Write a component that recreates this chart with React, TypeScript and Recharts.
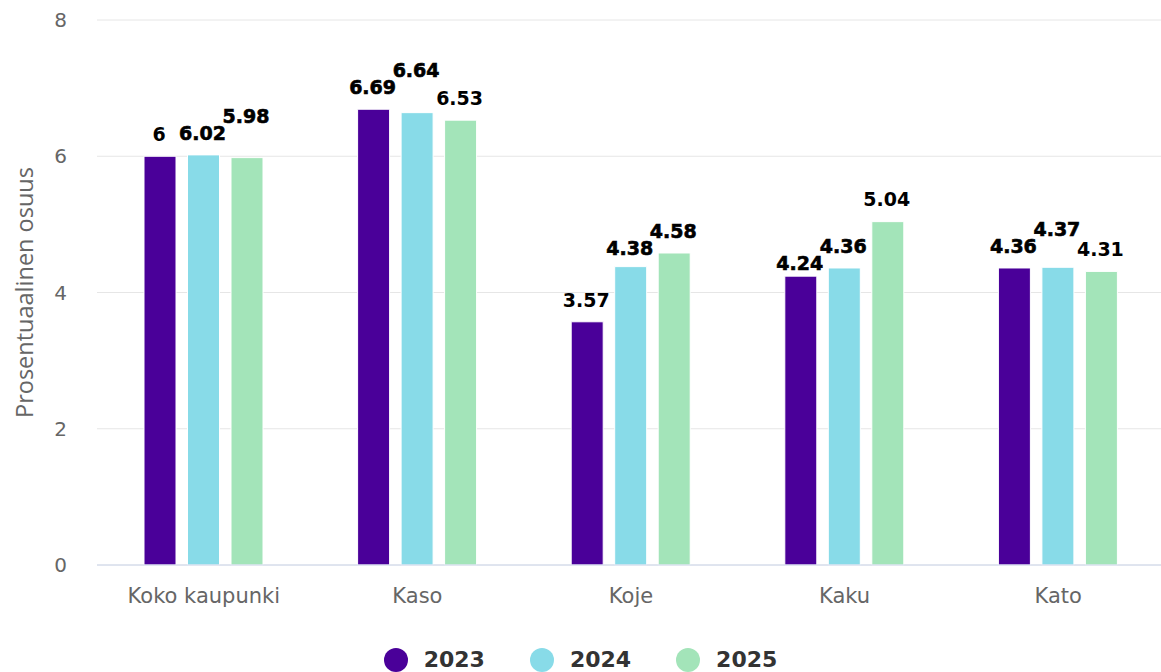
import React from 'react';
import { BarChart, Bar, XAxis, YAxis, CartesianGrid, LabelList, Legend } from 'recharts';

// ---- data ----
const categories = ['Koko kaupunki', 'Kaso', 'Koje', 'Kaku', 'Kato'];
const seriesNames = ['2023', '2024', '2025'];
const values2023 = [6, 6.69, 3.57, 4.24, 4.36];
const values2024 = [6.02, 6.64, 4.38, 4.36, 4.37];
const values2025 = [5.98, 6.53, 4.58, 5.04, 4.31];
const yTicks = [0, 2, 4, 6, 8];
const yTitle = 'Prosentuaalinen osuus';

const allSeries = [values2023, values2024, values2025];
const colors = ['#4a0099', '#88dbe8', '#a3e4b9'];

const data = categories.map((c, i) => ({
  category: c,
  s2023: values2023[i],
  s2024: values2024[i],
  s2025: values2025[i],
}));
const keys = ['s2023', 's2024', 's2025'];

// ---- style constants ----
const FONT = '"DejaVu Sans", Verdana, sans-serif';
const BAR_SIZE = 32;
const BAR_GAP = 11.5;
const LABEL_FONT = 19;
const LABEL_OFFSET = 22;
const LABEL_SEP = 17;

const fmt = (v: number) => String(v);
const estWidth = (t: string) => {
  let w = 0;
  for (const c of t) w += c === '.' ? 0.38 : 0.696;
  return w * LABEL_FONT + 4;
};

// simple collision avoidance between neighbouring labels of one category
function placeLabels(index: number, base: number, scale: number) {
  const vals = allSeries.map((s) => s[index]);
  const ys = vals.map((v) => base - v * scale - LABEL_OFFSET);
  const moved = vals.map(() => false);
  const pitch = BAR_SIZE + BAR_GAP;
  for (let s = 1; s < vals.length; s++) {
    const p = s - 1;
    const wp = estWidth(fmt(vals[p]));
    const ws = estWidth(fmt(vals[s]));
    if ((wp + ws) / 2 > pitch && Math.abs(ys[p] - ys[s]) < LABEL_SEP) {
      if (ys[p] - ys[s] > 4) ys[p] = ys[s] + LABEL_SEP;
      else ys[s] = ys[p] - LABEL_SEP;
      moved[p] = true;
      moved[s] = true;
    }
  }
  return { ys, moved };
}

const makeLabel = (seriesIdx: number) => (props: any) => {
  const vb = props.viewBox || {};
  const x = Number(props.x ?? vb.x);
  const y = Number(props.y ?? vb.y);
  const width = Number(props.width ?? vb.width);
  const height = Number(props.height ?? vb.height);
  const index = props.index;
  const value = Number(props.value);
  if (!isFinite(x) || !isFinite(y) || !value) return null;
  const base = y + height;
  const scale = height / value;
  const { ys, moved } = placeLabels(index, base, scale);
  const cy = ys[seriesIdx];
  const isMoved = moved[seriesIdx];
  return (
    <text
      x={x + width / 2 - 1}
      y={cy}
      dy="0.36em"
      textAnchor="middle"
      fontFamily={FONT}
      fontWeight="bold"
      fontSize={LABEL_FONT}
      fill="#000"
      stroke={isMoved ? '#000' : 'none'}
      strokeWidth={isMoved ? 0.6 : 0}
    >
      {fmt(value)}
    </text>
  );
};

const YTitle = (props: any) => {
  const vb = props.viewBox || {};
  const cy = (vb.y ?? 20) + (vb.height ?? 545) / 2;
  const x = (vb.x ?? 0) + 33;
  return (
    <text
      x={x}
      y={cy}
      transform={`rotate(-90 ${x} ${cy})`}
      textAnchor="middle"
      fontFamily='"Open Sans", sans-serif'
      fontSize={23.5}
      fill="#666666"
    >
      {yTitle}
    </text>
  );
};

const LegendContent = () => (
  <div
    style={{
      display: 'flex',
      justifyContent: 'center',
      alignItems: 'center',
      gap: 45,
      fontFamily: FONT,
      fontWeight: 'bold',
      fontSize: 22,
      color: '#333333',
      lineHeight: '24px',
    }}
  >
    {seriesNames.map((n, i) => (
      <div key={n} style={{ display: 'flex', alignItems: 'center' }}>
        <svg width={24} height={24} style={{ display: 'block' }}>
          <circle cx={12} cy={12} r={12} fill={colors[i]} />
        </svg>
        <span style={{ marginLeft: 16 }}>{n}</span>
      </div>
    ))}
  </div>
);

export default function App() {
  return (
    <div
      style={{
        position: 'absolute',
        left: 0,
        top: 0,
        width: 1161,
        height: 672,
        overflow: 'hidden',
        background: '#ffffff',
      }}
    >
      <BarChart
        width={1165}
        height={672}
        data={data}
        margin={{ top: 20, right: 0, bottom: 67, left: 0 }}
        barSize={BAR_SIZE}
        barGap={BAR_GAP}
      >
        <CartesianGrid vertical={false} stroke="#e6e6e6" strokeWidth={1} />
        <XAxis
          dataKey="category"
          height={40}
          tickLine={false}
          tickSize={6}
          tickMargin={17}
          axisLine={{ stroke: '#ccd6eb', strokeWidth: 1 }}
          tick={{ fill: '#666666', fontSize: 21, fontFamily: FONT }}
          interval={0}
        />
        <YAxis
          type="number"
          domain={[0, 8]}
          ticks={yTicks}
          width={97}
          axisLine={false}
          tickLine={false}
          tickSize={0}
          tickMargin={30}
          interval={0}
          tick={{ fill: '#666666', fontSize: 20, fontFamily: FONT }}
          label={<YTitle />}
        />
        <Legend
          layout="vertical"
          verticalAlign="middle"
          align="center"
          wrapperStyle={{ top: 648, left: 0, width: 1161, height: 24 }}
          content={<LegendContent />}
        />
        {keys.map((k, i) => (
          <Bar
            key={k}
            dataKey={k}
            name={seriesNames[i]}
            fill={colors[i]}
            stroke="#ffffff"
            strokeWidth={1}
            isAnimationActive={false}
          >
            <LabelList dataKey={k} content={makeLabel(i)} />
          </Bar>
        ))}
      </BarChart>
    </div>
  );
}
